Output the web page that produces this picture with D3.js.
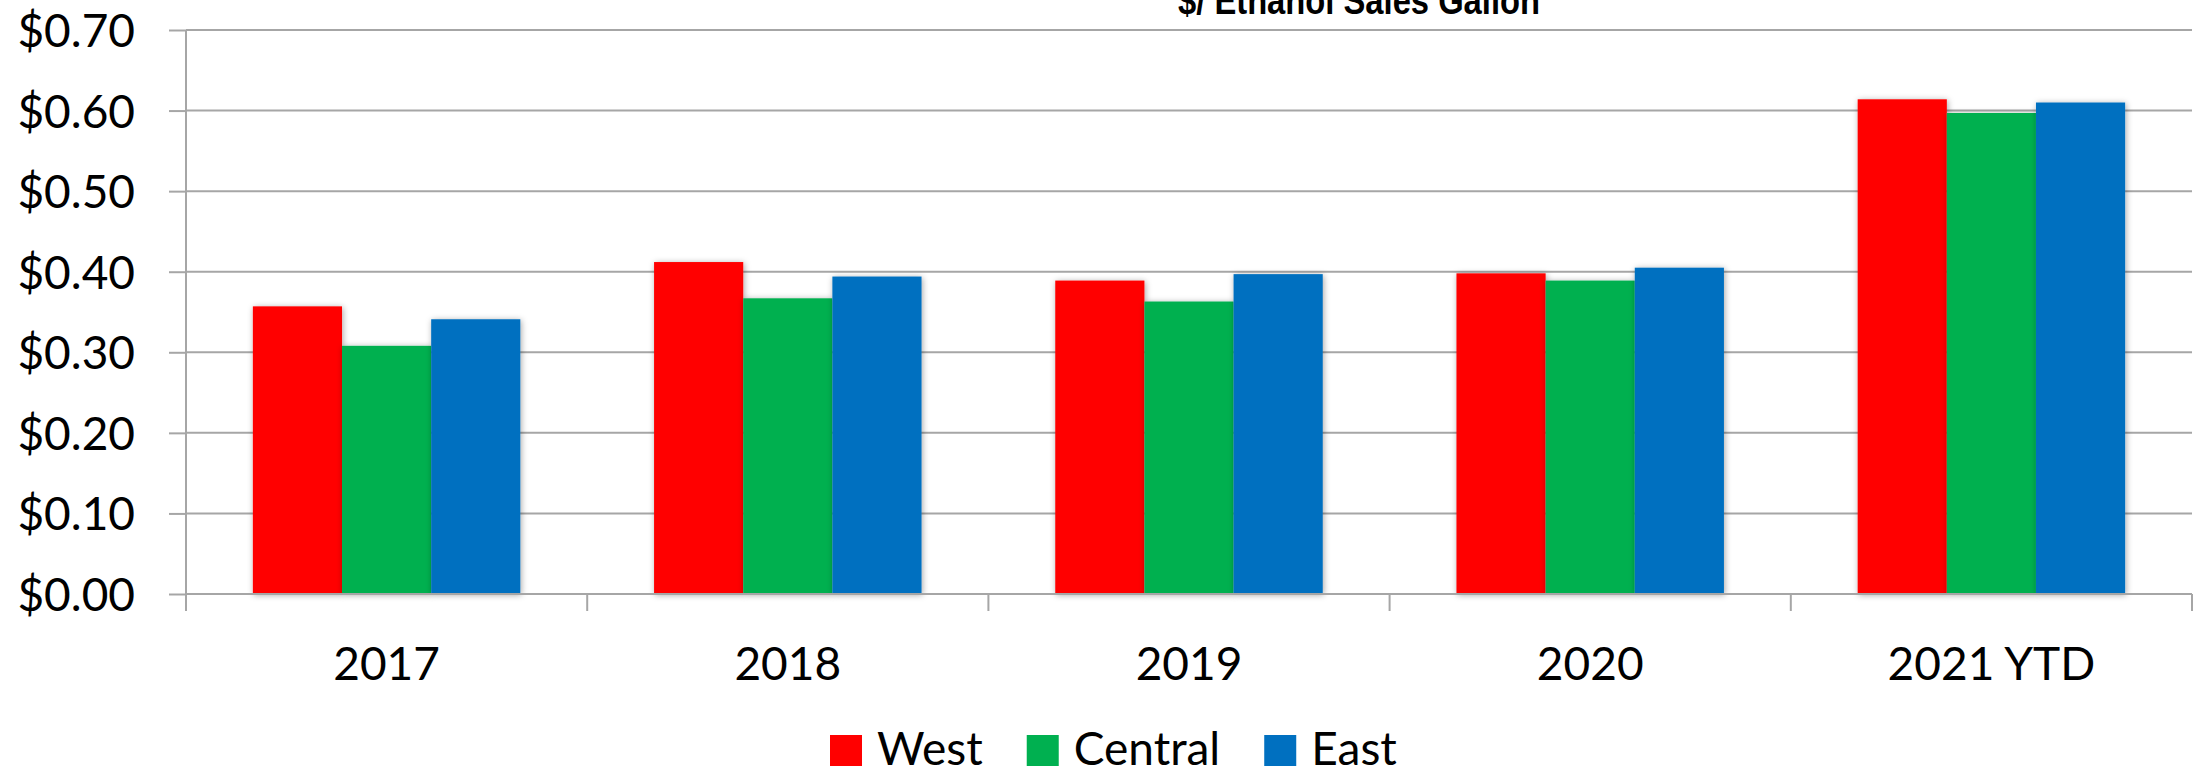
<!DOCTYPE html>
<html>
<head>
<meta charset="utf-8">
<script src="https://cdn.jsdelivr.net/npm/d3@7/dist/d3.min.js"></script>
<style>
  html, body { margin: 0; padding: 0; background: #ffffff; }
  svg { display: block; }
</style>
</head>
<body>
<svg id="chart" width="2205" height="770"></svg>
<script>
// ---- data ----
const categories = ["2017", "2018", "2019", "2020", "2021 YTD"];
const seriesNames = ["West", "Central", "East"];
const westValues = [0.357, 0.412, 0.389, 0.398, 0.614];
const centralValues = [0.308, 0.367, 0.363, 0.389, 0.597];
const eastValues = [0.341, 0.394, 0.397, 0.405, 0.610];
const yTickValues = [0.00, 0.10, 0.20, 0.30, 0.40, 0.50, 0.60, 0.70];
const titleText = "$/ Ethanol Sales Gallon";

const seriesColors = { West: "#FF0000", Central: "#00B050", East: "#0070C0" };
const seriesValues = { West: westValues, Central: centralValues, East: eastValues };

// ---- layout ----
const W = 2205, H = 770;
const plotLeft = 186, plotRight = 2192, plotTop = 30, plotBottom = 594;
const font = "Lato, 'Open Sans', sans-serif";
const gridColor = "#a6a6a6";

const svg = d3.select("#chart");

const defs = svg.append("defs");
const f = defs.append("filter").attr("id", "shadow")
  .attr("x", "-20%").attr("y", "-10%").attr("width", "140%").attr("height", "120%");
f.append("feDropShadow").attr("dx", 1).attr("dy", 1).attr("stdDeviation", 3)
  .attr("flood-color", "#000").attr("flood-opacity", 0.35);

const x = d3.scaleBand().domain(categories).range([plotLeft, plotRight]).paddingInner(0).paddingOuter(0);
const xs = d3.scaleBand().domain(seriesNames).range([0, x.bandwidth()]).paddingInner(0).paddingOuter(0.75);
const y = d3.scaleLinear().domain([0, 0.7]).range([plotBottom, plotTop]);

// gridlines
svg.append("g").selectAll("line").data(yTickValues).join("line")
  .attr("x1", plotLeft).attr("x2", plotRight)
  .attr("y1", d => y(d)).attr("y2", d => y(d))
  .attr("stroke", gridColor).attr("stroke-width", 2);

// y axis
const yAxis = svg.append("g").attr("transform", `translate(${plotLeft},0)`)
  .call(d3.axisLeft(y).tickValues(yTickValues).tickSize(17).tickPadding(34)
    .tickFormat(d => "$" + d3.format(".2f")(d)));
yAxis.select(".domain").remove();
yAxis.selectAll(".tick line").attr("stroke", gridColor).attr("stroke-width", 2);
yAxis.selectAll(".tick text")
  .attr("font-family", font).attr("font-size", 46).attr("fill", "#000")
  .attr("dy", "0.36em");

// y axis line
svg.append("line").attr("x1", plotLeft).attr("x2", plotLeft)
  .attr("y1", plotTop).attr("y2", plotBottom + 17)
  .attr("stroke", gridColor).attr("stroke-width", 2);

// x axis ticks at band boundaries
const boundaries = categories.map(c => x(c)).concat([x(categories[categories.length - 1]) + x.bandwidth()]);
svg.append("g").selectAll("line").data(boundaries).join("line")
  .attr("x1", d => d).attr("x2", d => d)
  .attr("y1", plotBottom).attr("y2", plotBottom + 17)
  .attr("stroke", gridColor).attr("stroke-width", 2);

// x axis labels
const xAxis = svg.append("g").attr("transform", `translate(0,${plotBottom})`)
  .call(d3.axisBottom(x).tickSize(0).tickPadding(0));
xAxis.select(".domain").remove();
xAxis.selectAll(".tick text")
  .attr("font-family", font).attr("font-size", 46).attr("fill", "#000")
  .attr("y", 86).attr("dy", 0);

// bars
const groups = svg.append("g").selectAll("g").data(categories).join("g")
  .attr("transform", d => `translate(${x(d)},0)`);
groups.selectAll("rect")
  .data((c, i) => seriesNames.map(s => ({ s, v: seriesValues[s][i] })))
  .join("rect")
  .attr("x", d => xs(d.s))
  .attr("width", xs.bandwidth())
  .attr("y", d => y(d.v))
  .attr("height", d => y(0) - y(d.v))
  .attr("fill", d => seriesColors[d.s])
  .attr("filter", "url(#shadow)");

// baseline on top
svg.append("line").attr("x1", plotLeft).attr("x2", plotRight)
  .attr("y1", plotBottom).attr("y2", plotBottom)
  .attr("stroke", gridColor).attr("stroke-width", 2);

// title (cut off at top, as in the reference)
svg.append("text").attr("x", 1359).attr("y", 14)
  .attr("text-anchor", "middle")
  .attr("font-family", "'Liberation Sans', Arial, sans-serif")
  .attr("font-weight", "bold").attr("font-size", 38).attr("fill", "#000")
  .attr("textLength", 362).attr("lengthAdjust", "spacingAndGlyphs")
  .text(titleText);

// legend
const legend = svg.append("g");
let lx = 830;
seriesNames.forEach(s => {
  legend.append("rect").attr("x", lx).attr("y", 735).attr("width", 32).attr("height", 31)
    .attr("fill", seriesColors[s]);
  const t = legend.append("text").attr("x", lx + 47).attr("y", 765)
    .attr("font-family", font).attr("font-size", 46).attr("fill", "#000").text(s);
  lx += 47 + t.node().getComputedTextLength() + 44;
});
</script>
</body>
</html>
